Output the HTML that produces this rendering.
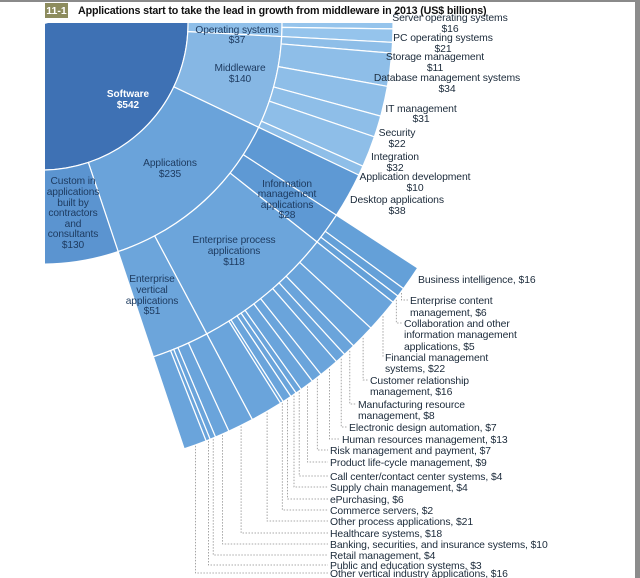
<!DOCTYPE html>
<html><head><meta charset="utf-8">
<style>
html,body{margin:0;padding:0;background:#fff;}
svg{display:block;}
text{font-family:"Liberation Sans",sans-serif;}
.l{font-size:10.4px;fill:#1b2a3a;letter-spacing:-0.1px;}
.in{font-size:10.2px;fill:#1d3a5f;text-anchor:middle;letter-spacing:-0.1px;}
</style></head><body>
<svg id="s" width="640" height="578" viewBox="0 0 640 578" xmlns="http://www.w3.org/2000/svg">
<rect x="0" y="0" width="640" height="578" fill="#fff"/>
<rect x="0" y="0" width="640" height="2" fill="#8a8a8a"/>
<rect x="635" y="0" width="5" height="578" fill="#8c8c8c"/>
<defs><clipPath id="c"><rect x="45" y="23" width="590" height="555"/></clipPath></defs>
<g id="wedges" clip-path="url(#c)"></g>
<g id="leaders"></g>
<rect x="45" y="3" width="23" height="15" fill="#8d8c5e"/>
<text x="56.5" y="14" font-size="10.5" font-weight="bold" fill="#fff" text-anchor="middle">11-1</text>
<text x="78" y="14" font-size="10.7" font-weight="bold" fill="#111" letter-spacing="-0.15">Applications start to take the lead in growth from middleware in 2013 (US$ billions)</text>

<text x="128" y="97" font-size="10" font-weight="bold" fill="#fff" text-anchor="middle">Software</text>
<text x="128" y="108" font-size="10" font-weight="bold" fill="#fff" text-anchor="middle">$542</text>
<text class="in" x="237" y="33">Operating systems</text><text class="in" x="237" y="43">$37</text>
<text class="in" x="240" y="71">Middleware</text><text class="in" x="240" y="82">$140</text>
<text class="in" x="170" y="166">Applications</text><text class="in" x="170" y="177">$235</text>
<text class="in" x="73" y="184">Custom in</text><text class="in" x="73" y="195">applications</text><text class="in" x="73" y="206">built by</text><text class="in" x="73" y="216">contractors</text><text class="in" x="73" y="227">and</text><text class="in" x="73" y="237">consultants</text><text class="in" x="73" y="248">$130</text>
<text class="in" x="287" y="187">Information</text><text class="in" x="287" y="197">management</text><text class="in" x="287" y="208">applications</text><text class="in" x="287" y="218">$28</text>
<text class="in" x="234" y="243">Enterprise process</text><text class="in" x="234" y="254">applications</text><text class="in" x="234" y="265">$118</text>
<text class="in" x="152" y="282">Enterprise</text><text class="in" x="152" y="293">vertical</text><text class="in" x="152" y="304">applications</text><text class="in" x="152" y="314">$51</text>

<g class="l" text-anchor="middle">
<text x="450" y="21">Server operating systems</text><text x="450" y="32">$16</text>
<text x="443" y="41">PC operating systems</text><text x="443" y="52">$21</text>
<text x="435" y="60">Storage management</text><text x="435" y="71">$11</text>
<text x="447" y="81">Database management systems</text><text x="447" y="92">$34</text>
<text x="421" y="112">IT management</text><text x="421" y="122">$31</text>
<text x="397" y="136">Security</text><text x="397" y="147">$22</text>
<text x="395" y="160">Integration</text><text x="395" y="171">$32</text>
<text x="415" y="180">Application development</text><text x="415" y="191">$10</text>
<text x="397" y="203">Desktop applications</text><text x="397" y="214">$38</text>
</g>
<g class="l">
<text x="418" y="283">Business intelligence, $16</text>
<text x="410" y="304">Enterprise content</text><text x="410" y="316">management, $6</text>
<text x="404" y="327">Collaboration and other</text><text x="404" y="338">information management</text><text x="404" y="350">applications, $5</text>
<text x="385" y="361">Financial management</text><text x="385" y="372">systems, $22</text>
<text x="370" y="384">Customer relationship</text><text x="370" y="395">management, $16</text>
<text x="358" y="408">Manufacturing resource</text><text x="358" y="419">management, $8</text>
<text x="349" y="431">Electronic design automation, $7</text>
<text x="342" y="443">Human resources management, $13</text>
<text x="330" y="454">Risk management and payment, $7</text>
<text x="330" y="466">Product life-cycle management, $9</text>
<text x="330" y="480">Call center/contact center systems, $4</text>
<text x="330" y="491">Supply chain management, $4</text>
<text x="330" y="503">ePurchasing, $6</text>
<text x="330" y="514">Commerce servers, $2</text>
<text x="330" y="525">Other process applications, $21</text>
<text x="330" y="537">Healthcare systems, $18</text>
<text x="330" y="548">Banking, securities, and insurance systems, $10</text>
<text x="330" y="559">Retail management, $4</text>
<text x="330" y="569">Public and education systems, $3</text>
<text x="330" y="577">Other vertical industry applications, $16</text>
</g>
</svg>
<script>
(function(){
var NS="http://www.w3.org/2000/svg",cx=42,cy=24;
var W=document.getElementById("wedges"),L=document.getElementById("leaders");
function pt(r,a){a=a*Math.PI/180;return [cx+r*Math.cos(a),cy+r*Math.sin(a)];}
function sec(r0,r1,a0,a1,fill){
 var p=document.createElementNS(NS,"path"),d;
 var A=pt(r1,a0),B=pt(r1,a1),C=pt(r0,a1),D=pt(r0,a0),lg=(a1-a0)>180?1:0;
 if(r0<=0){d="M"+cx+","+cy+"L"+A+"A"+r1+","+r1+" 0 "+lg+" 1 "+B+"Z";}
 else d="M"+A+"A"+r1+","+r1+" 0 "+lg+" 1 "+B+"L"+C+"A"+r0+","+r0+" 0 "+lg+" 0 "+D+"Z";
 p.setAttribute("d",d);p.setAttribute("fill",fill);p.setAttribute("stroke","#fff");p.setAttribute("stroke-width","1.2");
 W.appendChild(p);}
function split(a0,a1,vals){var t=0,i,o=[],a=a0;for(i=0;i<vals.length;i++)t+=vals[i];
 for(i=0;i<vals.length;i++){var b=a+(a1-a0)*vals[i]/t;o.push([a,b]);a=b;}return o;}
var R1=146,R2=240,R3=351,R4=448;
sec(0,R1,-15,100,"#3e71b4");
sec(R1,R2,-15,3,"#8fbfe9");sec(R1,R2,3,25.5,"#86b7e4");sec(R1,R2,25.5,71.5,"#6aa3da");sec(R1,R2,71.5,100,"#5b94d0");
sec(R2,R3,-15,0.8,"#95c4ec");sec(R2,R3,0.8,3,"#95c4ec");
split(3,25.5,[11,34,31,22,32,10]).forEach(function(s){sec(R2,R3,s[0],s[1],"#8ebee8");});
sec(R2,R3,25.5,33,"#5e99d4");sec(R2,R3,33,38.4,"#5e99d4");sec(R2,R3,38.4,62,"#6ca5db");sec(R2,R3,62,71.5,"#6ca5db");
var info=split(33,38.4,[16,6,5]);info.forEach(function(s){sec(R3,R4,s[0],s[1],"#64a0d8");});
var ep=split(38.4,62,[22,16,8,7,13,7,9,4,4,6,2,21]);ep.forEach(function(s){sec(R3,R4,s[0],s[1],"#6aa4db");});
var ev=split(62,71.5,[18,10,4,3,16]);ev.forEach(function(s){sec(R3,R4,s[0],s[1],"#6aa4db");});
var segs=[info[1],info[2]].concat(ep).concat(ev);
var lab=[[408,300],[402,323],[383,357],[368,380],[356,404],[347,427],[340,439],[328,450],[328,462],[328,476],[328,487],[328,499],[328,510],[328,521],[328,533],[328,544],[328,555],[328,565],[328,573]];
segs.forEach(function(s,i){var m=(s[0]+s[1])/2,P=pt(R4+1,m),lx=lab[i][0],ly=lab[i][1];
 var p=document.createElementNS(NS,"path");
 p.setAttribute("d","M"+P[0].toFixed(1)+","+P[1].toFixed(1)+"V"+ly+"H"+lx);
 p.setAttribute("fill","none");p.setAttribute("stroke","#8f8f8f");p.setAttribute("stroke-width","0.8");p.setAttribute("stroke-dasharray","1.5 1.5");
 L.appendChild(p);});
})();
</script>
</body></html>
